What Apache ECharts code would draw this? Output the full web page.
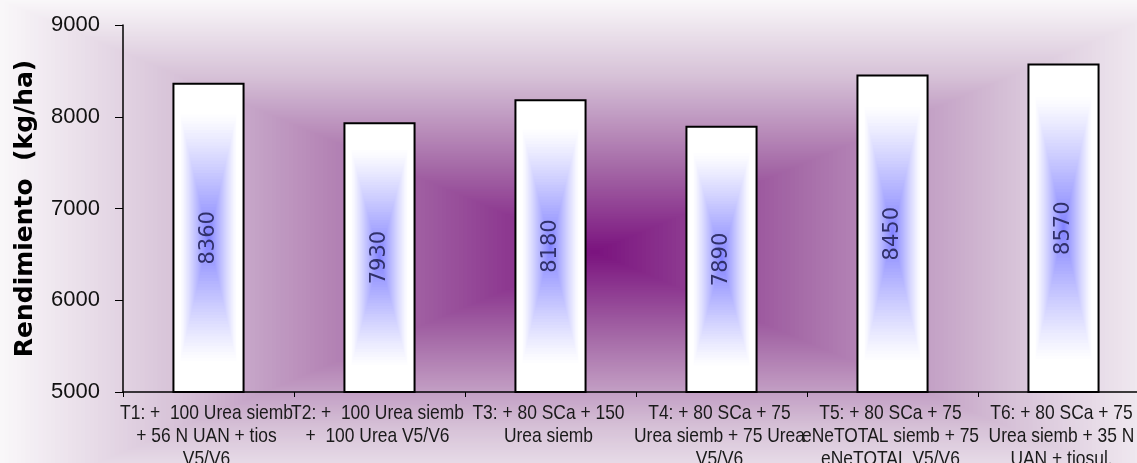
<!DOCTYPE html>
<html>
<head>
<meta charset="utf-8">
<script src="https://cdn.jsdelivr.net/npm/echarts@6/dist/echarts.min.js"></script>
<style>
html,body{margin:0;padding:0;background:#fff;}
#chart{width:1137px;height:463px;}
</style>
</head>
<body>
<div id="chart"></div>
<script>
var categories = [
  "T1: +  100 Urea siemb\n+ 56 N UAN + tios\nV5/V6",
  "T2: +  100 Urea siemb\n+  100 Urea V5/V6",
  "T3: + 80 SCa + 150\nUrea siemb",
  "T4: + 80 SCa + 75\nUrea siemb + 75 Urea\nV5/V6",
  "T5: + 80 SCa + 75\neNeTOTAL siemb + 75\neNeTOTAL V5/V6",
  "T6: + 80 SCa + 75\nUrea siemb + 35 N\nUAN + tiosul."
];
var rendimiento = [8360, 7930, 8180, 7890, 8450, 8570];
var yMin = 5000, yMax = 9000, yInterval = 1000;
var yTitle = "Rendimiento  (kg/ha)";

function mixArr(a, b, f) {
  return [a[0] + (b[0] - a[0]) * f, a[1] + (b[1] - a[1]) * f, a[2] + (b[2] - a[2]) * f];
}
function rgb(c) { return 'rgb(' + Math.round(c[0]) + ',' + Math.round(c[1]) + ',' + Math.round(c[2]) + ')'; }

// background: rectangular "from center" gradient (purple -> near white)
var bgStops = [[0, [122, 18, 126]], [0.35, [166, 108, 168]], [0.7, [214, 193, 215]], [1, [249, 247, 249]]];
function bgColor(t) {
  for (var j = 1; j < bgStops.length; j++) {
    if (t <= bgStops[j][0]) {
      var a = bgStops[j - 1], b = bgStops[j];
      return rgb(mixArr(a[1], b[1], (t - a[0]) / (b[0] - a[0])));
    }
  }
  return rgb(bgStops[bgStops.length - 1][1]);
}
var bgCx = 595, bgCy = 252, bgW = 595, bgH = 252;
var bgEls = [];
var NB = 140;
for (var i = NB; i >= 1; i--) {
  var t = i / NB;
  bgEls.push({
    type: 'rect', silent: true, z: -10,
    shape: { x: bgCx - bgW * t, y: bgCy - bgH * t, width: 2 * bgW * t, height: 2 * bgH * t },
    style: { fill: bgColor(t) }
  });
}

var barBlue = [128, 128, 255], white = [255, 255, 255];
function barColor(t) {
  var s = Math.max(0, 1 - t / 0.82);
  s = Math.pow(s, 1.15);
  return rgb(mixArr(white, barBlue, s));
}

var chart = echarts.init(document.getElementById('chart'), null, { renderer: 'canvas' });
chart.setOption({
  animation: false,
  backgroundColor: '#ffffff',
  graphic: { elements: bgEls },
  grid: { left: 123, right: -12, top: 25, bottom: 71, containLabel: false, outerBoundsMode: 'none' },
  xAxis: {
    type: 'category',
    data: categories,
    boundaryGap: true,
    z: 5,
    axisLine: { show: true, lineStyle: { color: '#000', width: 1.5 } },
    axisTick: { show: true, length: 5, lineStyle: { color: '#000', width: 1 } },
    axisLabel: { show: false },
    splitLine: { show: false }
  },
  yAxis: {
    type: 'value',
    min: yMin, max: yMax, interval: yInterval,
    z: 5,
    name: yTitle,
    nameLocation: 'middle',
    nameGap: 85,
    nameTextStyle: { fontFamily: 'DejaVu Sans', fontWeight: 'bold', fontSize: 25, color: '#000' },
    axisLine: { show: true, lineStyle: { color: '#000', width: 1.5 } },
    axisTick: { show: true, length: 8, lineStyle: { color: '#000', width: 1 } },
    axisLabel: {
      margin: 23, color: '#111', fontFamily: 'Liberation Sans', fontSize: 22,
      formatter: function (v) { return String(v); }
    },
    splitLine: { show: false }
  },
  series: [{
    type: 'custom',
    z: 3,
    encode: { x: 0, y: 1 },
    data: rendimiento.map(function (v, i) { return [i, v]; }),
    renderItem: function (params, api) {
      var cat = api.value(0), v = api.value(1);
      var top = api.coord([cat, v]);
      var bot = api.coord([cat, yMin]);
      var band = api.size([1, 0])[0];
      var w = band * 0.41;
      var cx = top[0], h = bot[1] - top[1], cy = top[1] + h / 2;
      var children = [];
      var N = 50;
      for (var k = N; k >= 1; k--) {
        var t = k / N;
        children.push({
          type: 'rect',
          shape: { x: cx - w / 2 * t, y: cy - h / 2 * t, width: w * t, height: h * t },
          style: { fill: barColor(t) }
        });
      }
      children.push({
        type: 'rect',
        shape: { x: cx - w / 2, y: top[1], width: w, height: h },
        style: { fill: 'none', stroke: '#000', lineWidth: 2 }
      });
      children.push({
        type: 'text',
        x: cx, y: cy, rotation: Math.PI / 2,
        style: {
          text: String(v), fill: '#30306a',
          font: '21px "DejaVu Sans", sans-serif',
          align: 'center', verticalAlign: 'middle'
        }
      });
      return { type: 'group', children: children };
    }
  }, {
    // category labels (condensed rendering of the x-axis labels)
    type: 'custom',
    z: 6,
    clip: false,
    silent: true,
    encode: { x: 0, y: 1 },
    data: categories.map(function (c, i) { return [i, yMin]; }),
    renderItem: function (params, api) {
      var cat = api.value(0);
      var p = api.coord([cat, yMin]);
      return {
        type: 'text',
        x: p[0] - 2, y: p[1] + 10,
        scaleX: 0.83,
        style: {
          text: categories[cat], fill: '#1a1a1a',
          font: '21px "Liberation Sans", sans-serif',
          lineHeight: 23,
          align: 'center', verticalAlign: 'top'
        }
      };
    }
  }]
});
</script>
</body>
</html>
